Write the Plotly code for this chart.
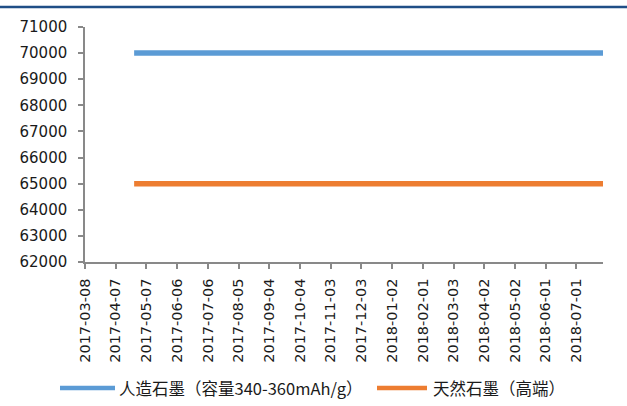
import plotly.graph_objects as go

# Price series (yuan/ton)
dates = ["2017-04-25", "2017-06-01", "2017-08-01", "2017-10-01", "2017-12-01",
         "2018-02-01", "2018-04-01", "2018-06-01", "2018-07-27"]
artificial = [70000, 70000, 70000, 70000, 70000, 70000, 70000, 70000, 70000]
natural = [65000, 65000, 65000, 65000, 65000, 65000, 65000, 65000, 65000]

series_names = ["人造石墨（容量340-360mAh/g）", "天然石墨（高端）"]
series_colors = ["#5B9BD5", "#ED7D31"]
tick_dates = ["2017-03-08", "2017-04-07", "2017-05-07", "2017-06-06", "2017-07-06",
              "2017-08-05", "2017-09-04", "2017-10-04", "2017-11-03", "2017-12-03",
              "2018-01-02", "2018-02-01", "2018-03-03", "2018-04-02", "2018-05-02",
              "2018-06-01", "2018-07-01"]

CJK_FONT = "Noto Sans CJK SC, sans-serif"
NUM_FONT = "DejaVu Sans, sans-serif"
AXIS = "#898989"
TEXT = "#1a1a1a"

W, H = 627, 406
L, R, T, B = 85, 24, 27, 144
pw, ph = W - L - R, H - T - B


def px_x(x):
    return (x - L) / pw


def px_y(y):
    return (H - B - y) / ph


fig = go.Figure()
for vals, name, color in zip([artificial, natural], series_names, series_colors):
    fig.add_trace(go.Scatter(x=dates, y=vals, mode="lines", name=name,
                             line=dict(color=color, width=5.5), showlegend=False))

# Legend drawn below the plot: line sample followed by its label
legend_items = [(60, 115, 117), (377, 427, 431)]
legend_y = 388
shapes = [dict(type="line", xref="paper", yref="paper",
               x0=px_x(-3), x1=px_x(W + 3), y0=px_y(7), y1=px_y(7),
               line=dict(color="#1F4E86", width=2.5))]
annotations = []
for (x0, x1, tx), name, color in zip(legend_items, series_names, series_colors):
    shapes.append(dict(type="line", xref="paper", yref="paper",
                       x0=px_x(x0), x1=px_x(x1), y0=px_y(legend_y), y1=px_y(legend_y),
                       line=dict(color=color, width=4.5)))
    annotations.append(dict(text=name, xref="paper", yref="paper",
                            x=px_x(tx), y=px_y(legend_y), xanchor="left", yanchor="middle",
                            showarrow=False,
                            font=dict(family=CJK_FONT, size=16.5, color=TEXT)))

fig.update_layout(
    width=W, height=H,
    margin=dict(l=L, r=R, t=T, b=B),
    paper_bgcolor="white", plot_bgcolor="white",
    font=dict(family=NUM_FONT, size=15, color=TEXT),
    showlegend=False,
    shapes=shapes,
    annotations=annotations,
)

fig.update_xaxes(
    type="date", range=["2017-03-08", "2018-07-27"],
    tickvals=tick_dates, ticktext=tick_dates, tickangle=-90,
    showgrid=False, zeroline=False,
    showline=True, linecolor=AXIS, linewidth=1.5,
    ticks="outside", ticklen=5, tickcolor=AXIS, tickwidth=1.5,
    ticklabelstandoff=4,
    tickfont=dict(family=NUM_FONT, size=14.5, color=TEXT),
)
fig.update_yaxes(
    range=[62000, 71000], dtick=1000, tickformat="d",
    showgrid=False, zeroline=False,
    showline=True, linecolor=AXIS, linewidth=1.5,
    ticks="outside", ticklen=5, tickcolor=AXIS, tickwidth=1.5,
    ticklabelstandoff=8,
    tickfont=dict(family=NUM_FONT, size=15, color=TEXT),
)

fig.write_html("out.html")
